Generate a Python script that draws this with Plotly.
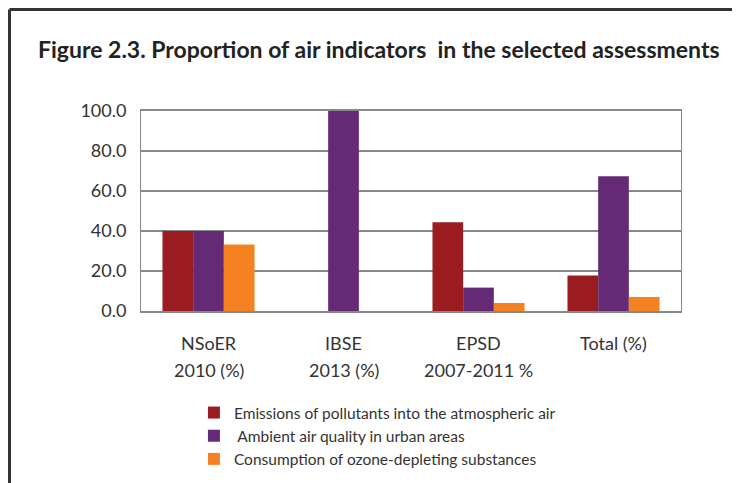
import plotly.graph_objects as go

categories = ["NSoER 2010 (%)", "IBSE 2013 (%)", "EPSD 2007-2011 %", "Total (%)"]
cat_line1 = ["NSoER", "IBSE", "EPSD", "Total (%)"]
cat_line2 = ["2010 (%)", "2013 (%)", "2007-2011 %", ""]

series_names = [
    "Emissions of pollutants into the atmospheric air",
    " Ambient air quality in urban areas",
    "Consumption of ozone-depleting substances",
]
emissions = [40.0, None, 44.4, 17.7]
ambient = [40.0, 100.0, 11.7, 67.4]
ozone = [33.3, None, 4.0, 7.0]
series_values = [emissions, ambient, ozone]
colors = ["#9B1C20", "#652A75", "#F58220"]

y_ticks = [0, 20, 40, 60, 80, 100]
y_ticklabels = ["0.0", "20.0", "40.0", "60.0", "80.0", "100.0"]

FONT = "Lato"
fig = go.Figure()
for name, vals, col in zip(series_names, series_values, colors):
    fig.add_trace(go.Bar(x=categories, y=vals, name=name, marker=dict(color=col, line=dict(width=0))))

annotations = []
for c, l1, l2 in zip(categories, cat_line1, cat_line2):
    annotations.append(dict(x=c, y=-0.16, xref="x", yref="paper", text=l1, showarrow=False,
                            font=dict(family=FONT, size=18, color="#333"), yanchor="middle"))
    if l2:
        annotations.append(dict(x=c, y=-0.295, xref="x", yref="paper", text=l2, showarrow=False,
                                font=dict(family=FONT, size=18, color="#333"), yanchor="middle"))

fig.update_layout(
    width=740, height=483,
    margin=dict(l=133, r=67, t=103, b=180),
    paper_bgcolor="white", plot_bgcolor="white",
    barmode="group", bargap=0.318, bargroupgap=0,
    title=dict(text="<b>Figure 2.3. Proportion of air indicators  in the selected assessments</b>",
               x=0.0405, xanchor="left", y=0.913, yanchor="middle",
               font=dict(family=FONT, size=23, color="#222")),
    xaxis=dict(showticklabels=False, showline=True, linecolor="#888", linewidth=1.5,
               mirror=True, ticks=""),
    yaxis=dict(range=[0, 100], tickvals=y_ticks, ticktext=y_ticklabels, showgrid=True,
               gridcolor="#888", gridwidth=1.5, showline=True, linecolor="#888", linewidth=1,
               mirror=True, ticks="", ticklen=0, ticklabelstandoff=10,
               tickfont=dict(family=FONT, size=18, color="#333"),
               zeroline=False),
    legend=dict(x=0.098, y=-0.425, xanchor="left", yanchor="top", orientation="v",
                font=dict(family=FONT, size=15.5, color="#333"), bgcolor="rgba(0,0,0,0)",
                itemwidth=30, tracegroupgap=0, traceorder="normal"),
    annotations=annotations,
    shapes=[
        dict(type="line", xref="paper", yref="paper", x0=-0.2435, x1=1.2, y0=1.5075, y1=1.5075,
             line=dict(color="#333", width=3)),
        dict(type="line", xref="paper", yref="paper", x0=-0.2435, x1=-0.2435, y0=1.5075, y1=-0.9,
             line=dict(color="#333", width=3)),
    ],
    showlegend=True,
)
fig.write_html("out.html")
